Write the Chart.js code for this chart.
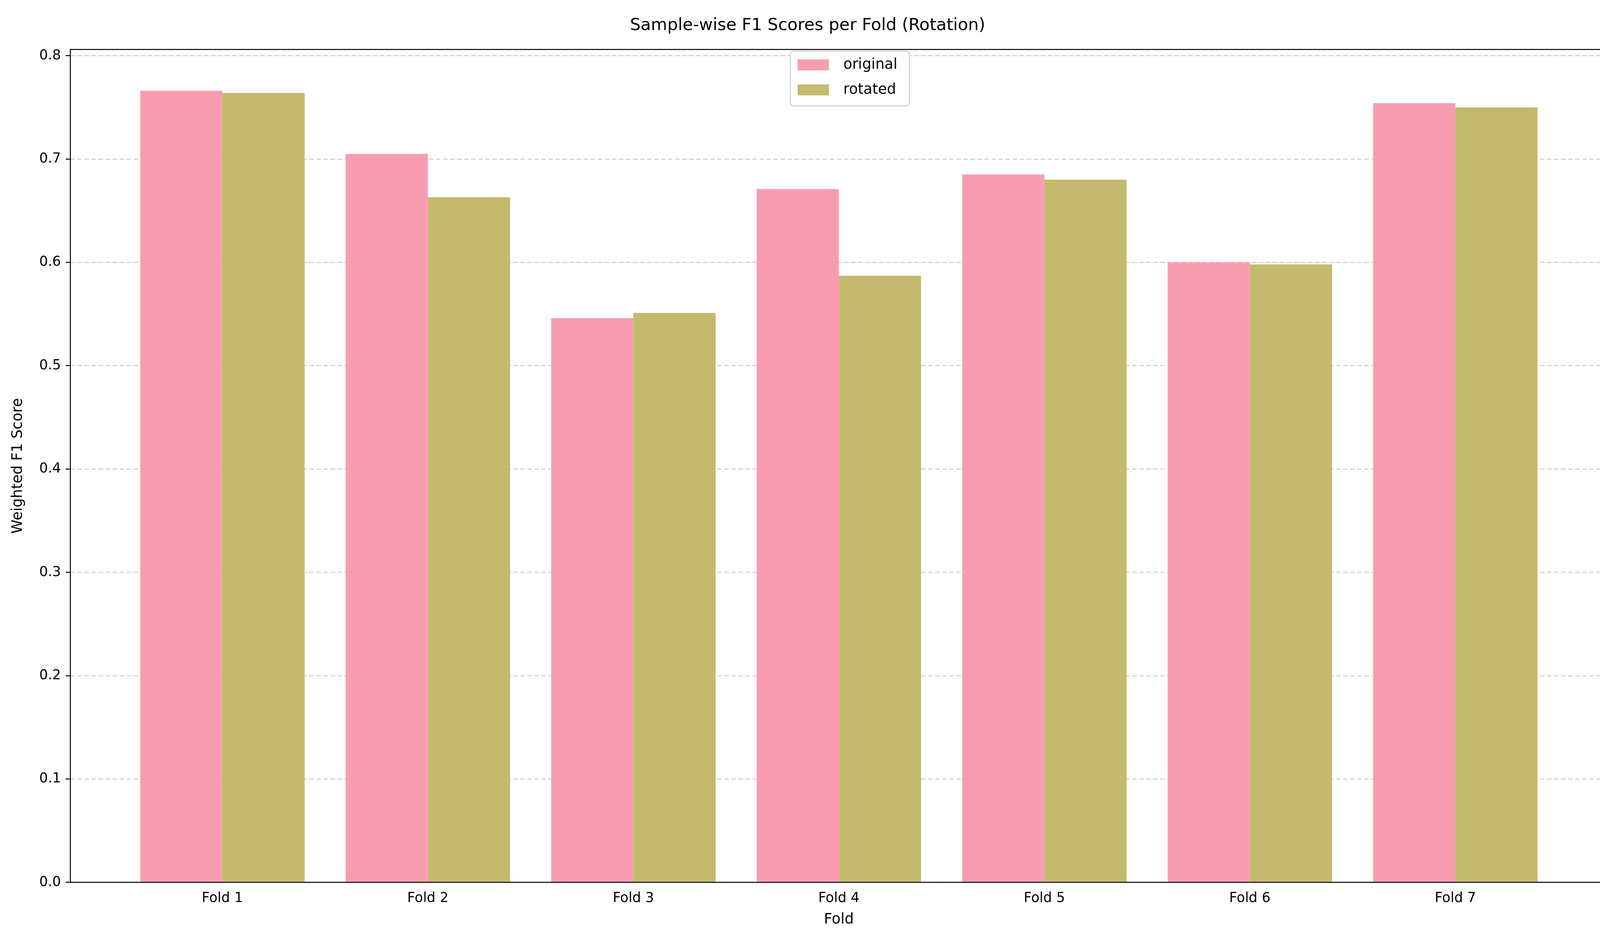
<!DOCTYPE html>
<html><head><meta charset="utf-8">
<script src="https://cdn.jsdelivr.net/npm/chart.js@4"></script>
<style>html,body{margin:0;padding:0;background:#fff;overflow:hidden;width:4200px;height:2400px}canvas{display:block;width:4200px;height:2400px}</style>
</head><body>
<canvas id="c" width="4200" height="2400"></canvas>
<script>
const categories = ["Fold 1","Fold 2","Fold 3","Fold 4","Fold 5","Fold 6","Fold 7"];
const originalScores = [0.766,0.705,0.546,0.671,0.685,0.600,0.754];
const rotatedScores = [0.764,0.663,0.551,0.587,0.680,0.598,0.750];
const yTicks = [0,0.1,0.2,0.3,0.4,0.5,0.6,0.7,0.8];
const seriesNames = ["original","rotated"];
const colors = ["rgba(248,152,171,0.95)","rgba(196,186,109,1)"];
const F = "DejaVu Sans";

const framePlugin = {
  id:'frame',
  afterDraw(chart){
    const {ctx, chartArea:a} = chart;
    ctx.save();
    ctx.strokeStyle='#000'; ctx.lineWidth=2.5;
    ctx.strokeRect(a.left,a.top,a.right-a.left,a.bottom-a.top);
    const bx=2023, by=131, bw=305, bh=140;
    ctx.fillStyle='rgba(255,255,255,0.85)';
    ctx.strokeStyle='#ccc'; ctx.lineWidth=2.5;
    ctx.beginPath(); ctx.roundRect(bx,by,bw,bh,8); ctx.fill(); ctx.stroke();
    ctx.font='37px '+F; ctx.textBaseline='middle'; ctx.textAlign='left';
    seriesNames.forEach((n,i)=>{
      const cy=166+i*64;
      ctx.fillStyle=colors[i]; ctx.fillRect(2042,cy-14,80,28);
      ctx.fillStyle='#000'; ctx.fillText(n,2159,cy);
    });
    ctx.restore();
  }
};

new Chart(document.getElementById('c'),{
  type:'bar',
  data:{datasets:seriesNames.map((n,i)=>({
    label:n,
    data:categories.map((c,j)=>({x:j,y:(i===0?originalScores:rotatedScores)[j]})),
    backgroundColor:colors[i], borderWidth:0,
    barPercentage:1, categoryPercentage:0.8
  }))},
  options:{
    responsive:false, devicePixelRatio:1, animation:false,
    layout:{padding:{left:20,right:85,top:20,bottom:20}},
    plugins:{
      legend:{display:false}, tooltip:{enabled:false},
      title:{display:true,text:'Sample-wise F1 Scores per Fold (Rotation)',color:'#000',
        font:{family:F,size:43,weight:'normal'},padding:{top:20,bottom:35}}
    },
    scales:{
      x:{type:'linear',min:-0.74,max:6.74,offset:false,
        afterBuildTicks(ax){ax.ticks=categories.map((c,i)=>({value:i}));},
        ticks:{callback:v=>categories[v],color:'#000',font:{family:F,size:35},padding:12,autoSkip:false,maxRotation:0},
        grid:{display:false},
        border:{display:false},
        title:{display:true,text:'Fold',color:'#000',font:{family:F,size:37},padding:{top:0}}
      },
      y:{min:0,max:0.806,
        afterBuildTicks(ax){ax.ticks=yTicks.map(v=>({value:v}));},
        ticks:{callback:v=>v.toFixed(1),color:'#000',font:{family:F,size:35},padding:12},
        grid:{color:'#cccccc',lineWidth:2.5,tickColor:'#000',tickLength:12,drawTicks:true},
        border:{display:false,dash:[12,6]},
        title:{display:true,text:'Weighted F1 Score',color:'#000',font:{family:F,size:37},padding:{bottom:20}}
      }
    }
  },
  plugins:[framePlugin]
});
</script>
</body></html>
